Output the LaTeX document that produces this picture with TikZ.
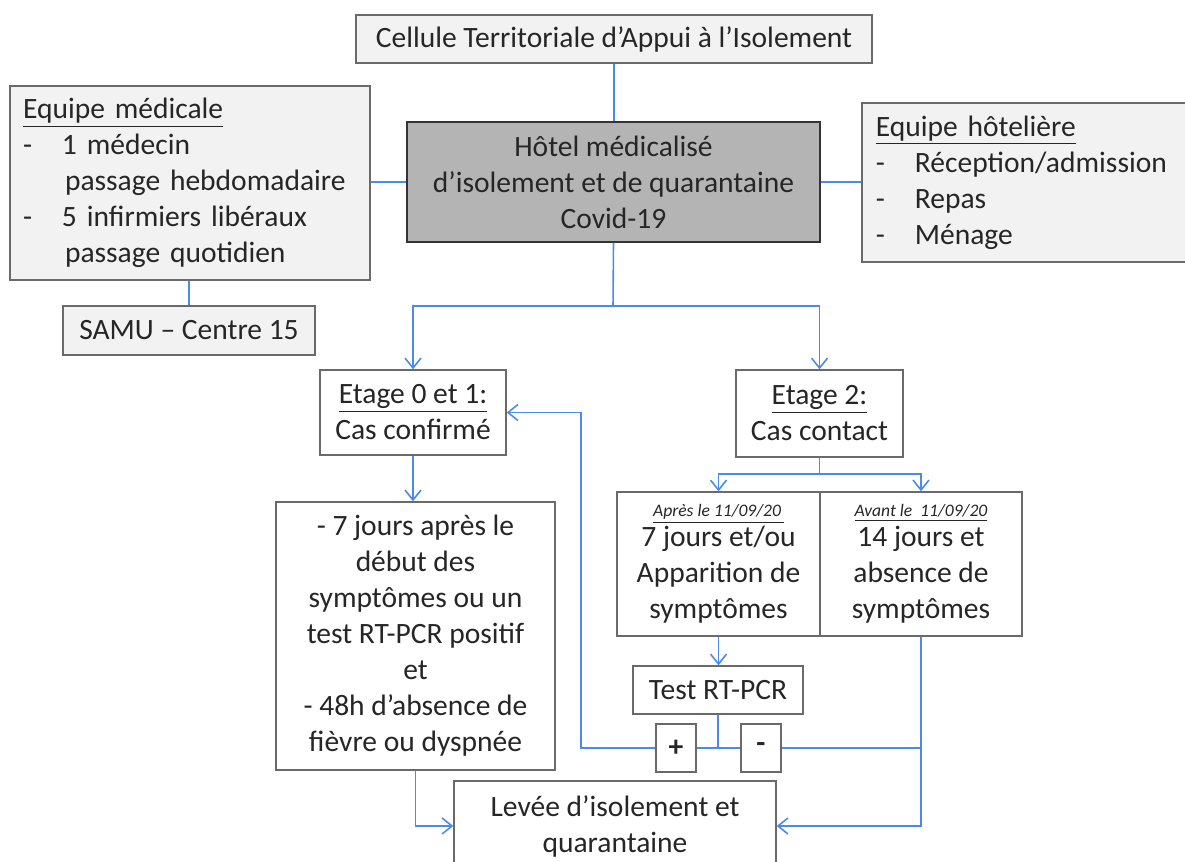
\documentclass[tikz,border=0pt]{standalone}
\usepackage{fontspec}
\setmainfont{Carlito}
\usetikzlibrary{arrows.meta}
\definecolor{boxgray}{HTML}{F2F2F2}
\definecolor{darkgray}{HTML}{B4B4B4}
\definecolor{framegray}{HTML}{6A6A6A}
\definecolor{linkblue}{HTML}{4A8AF0}
\definecolor{textgray}{HTML}{262626}
\newcommand{\tiret}{\makebox[0.78cm][l]{-}}
\begin{document}
\begin{tikzpicture}[x=0.02cm,y=-0.02cm,
    font=\fontsize{16.8}{20.5}\selectfont,text=textgray,
    box/.style={draw=framegray,line width=0.8pt,fill=white,inner sep=0pt,align=center},
    graybox/.style={box,fill=boxgray},
    link/.style={draw=linkblue,line width=0.9pt},
    arrow/.style={link,-{Straight Barb[length=2mm,width=3.2mm]}}]
    \useasboundingbox (0,0) rectangle (1185,861);
    % top row
    \node[graybox,minimum width=10.32cm,minimum height=0.96cm] (cti) at (614,39)
        {Cellule Territoriale d'Appui à l'Isolement};
    \node[box,fill=darkgray,draw=black!80,minimum width=8.26cm,minimum height=2.4cm] (hotel) at (613.5,182)
        {Hôtel médicalisé\\d'isolement et de quarantaine\\Covid-19};
    \node[graybox,minimum width=7.2cm,minimum height=3.88cm,align=left,text width=6.68cm] (medic) at (190,183)
        {\underline{Equipe médicale}\\
         \tiret 1 médecin\\
         \hspace*{0.84cm}passage hebdomadaire\\
         \tiret 5 infirmiers libéraux\\
         \hspace*{0.84cm}passage quotidien};
    \node[graybox,minimum width=6.66cm,minimum height=3.18cm,align=left,text width=6.1cm] (hotelier) at (1195.5,182.5) [anchor=east]
        {\underline{Equipe hôtelière}\\
         \tiret Réception/admission\\
         \tiret Repas\\
         \tiret Ménage};
    \node[graybox,minimum width=5.04cm,minimum height=0.98cm] (samu) at (189,330.5) {SAMU -- Centre 15};
    % floors
    \node[box,minimum width=3.72cm,minimum height=1.7cm] (etage01) at (413,412.5)
        {\underline{Etage 0 et 1:}\\Cas confirmé};
    \node[box,minimum width=3.34cm,minimum height=1.74cm] (etage2) at (819.5,413.5)
        {\underline{Etage 2:}\\Cas contact};
    \node[box,minimum width=5.58cm,minimum height=5.36cm] (confirm) at (415.5,636)
        {- 7 jours après le\\début des\\symptômes ou un\\test RT-PCR positif\\et\\- 48h d'absence de\\fièvre ou dyspnée};
    \node[box,minimum width=4.06cm,minimum height=2.88cm] (apres) at (718.5,564)
        {{\fontsize{10}{12}\selectfont\itshape\underline{Après le 11/09/20\,}}\\[-0.12cm]7 jours et/ou\\Apparition de\\symptômes};
    \node[box,minimum width=4.04cm,minimum height=2.88cm] (avant) at (921,564)
        {{\fontsize{10}{12}\selectfont\itshape\underline{Avant le\ \ 11/09/20}}\\[-0.12cm]14 jours et\\absence de\\symptômes};
    \node[box,minimum width=3.4cm,minimum height=0.96cm] (test) at (718,690) {Test RT-PCR};
    \node[box,minimum width=0.8cm,minimum height=0.96cm,font=\fontsize{16.8}{20.5}\selectfont\bfseries] (plus) at (676,748) {+};
    \node[box,minimum width=0.8cm,minimum height=0.96cm,font=\fontsize{16.8}{20.5}\selectfont\bfseries] (minus) at (761,748) {-};
    \node[box,minimum width=6.44cm,minimum height=1.8cm] (levee) at (615,826)
        {Levée d'isolement et\\quarantaine};
    % connectors
    \coordinate (split) at (613,306);
    \coordinate (split2) at (819.5,474);
    \coordinate (loop) at (581,748);
    \draw[link] (cti.south) -- (cti.south |- hotel.north);
    \draw[link] (medic.east |- hotel.west) -- (hotel.west);
    \draw[link] (hotel.east) -- (hotel.east -| hotelier.west);
    \draw[link] (samu.north) -- (samu.north |- medic.south);
    \draw[arrow] (hotel.south) -- (split) -| (etage01.north);
    \draw[arrow] (split) -| (etage2.north);
    \draw[arrow] (etage01.south) -- (etage01.south |- confirm.north);
    \draw[arrow] (etage2.south) -- (split2) -| (apres.north);
    \draw[arrow] (split2) -| (avant.north);
    \draw[arrow] (apres.south) -- (apres.south |- test.north);
    \draw[link] (test.south) -- (test.south |- plus.east);
    \draw[link] (plus.east) -- (minus.west);
    \draw[arrow] (plus.west) -- (loop) |- (etage01.east);
    \draw[link] (minus.east) -- (minus.east -| avant.south);
    \draw[arrow] (avant.south) |- (levee.east);
    \draw[arrow] (confirm.south) |- (levee.west);
\end{tikzpicture}
\end{document}
